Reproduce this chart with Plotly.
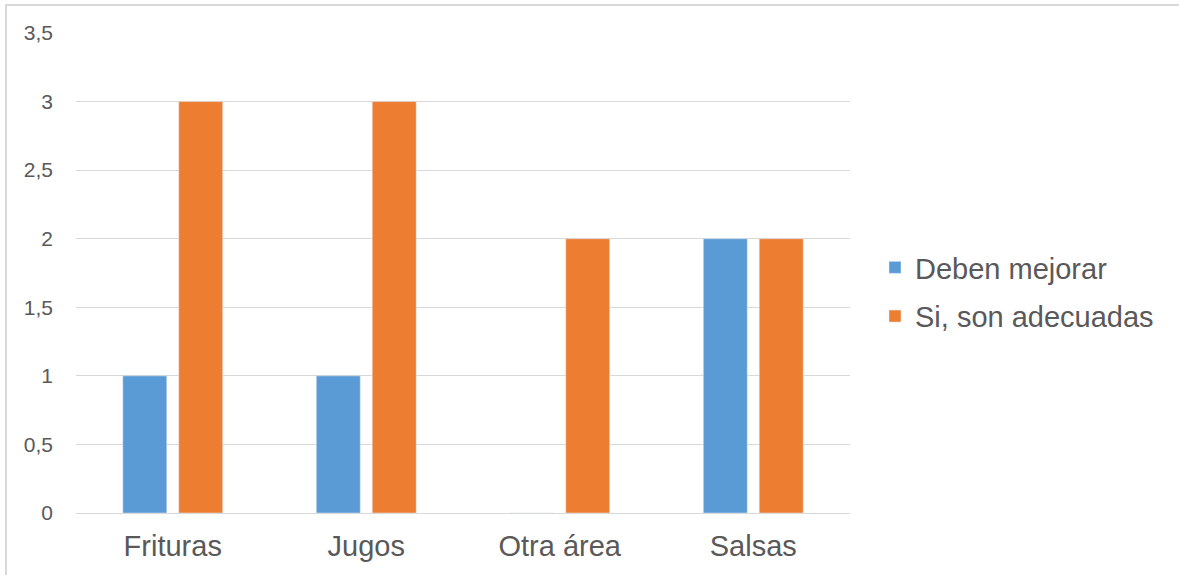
import plotly.graph_objects as go

categories = ["Frituras", "Jugos", "Otra área", "Salsas"]
deben_mejorar = [1, 1, 0, 2]
si_adecuadas = [3, 3, 2, 2]
y_ticks = [0, 0.5, 1, 1.5, 2, 2.5, 3, 3.5]
y_tick_labels = ["0", "0,5", "1", "1,5", "2", "2,5", "3", "3,5"]

W, H = 1179, 575
ML, MR, MT, MB = 76, 329, 33, 62
PW, PH = W - ML - MR, H - MT - MB

TEXT = "#595959"
GRID = "#d9d9d9"
FONT = "Liberation Sans, Arial, sans-serif"

fig = go.Figure()
fig.add_trace(go.Bar(name="Deben mejorar", x=categories, y=deben_mejorar,
                     marker_color="#5B9BD5", legendgroup="a"))
fig.add_trace(go.Bar(name="Si, son adecuadas", x=categories, y=si_adecuadas,
                     marker_color="#ED7D31", legendgroup="b"))

def px_x(v):
    return (v - ML) / PW

def px_y(v):
    return (H - MB - v) / PH

fig.update_layout(
    width=W, height=H,
    margin=dict(l=ML, r=MR, t=MT, b=MB, pad=0),
    paper_bgcolor="white", plot_bgcolor="white",
    barmode="group", bargap=0.422, bargroupgap=0.214,
    font=dict(family=FONT, color=TEXT),
    showlegend=True,
    legend=dict(x=px_x(875), y=px_y(292), xanchor="left", yanchor="middle",
                font=dict(size=29, color=TEXT), tracegroupgap=8,
                itemwidth=30, bgcolor="rgba(0,0,0,0)"),
    xaxis=dict(showgrid=False, showline=True, linecolor=GRID, linewidth=1,
               ticks="", tickfont=dict(size=29, color=TEXT),
               ticklabelstandoff=7, fixedrange=True),
    yaxis=dict(range=[0, 3.5], tickvals=y_ticks, ticktext=y_tick_labels,
               showgrid=True, gridcolor=GRID, gridwidth=1, zeroline=False,
               showline=False, ticks="", tickfont=dict(size=21, color=TEXT),
               ticklabelstandoff=22, fixedrange=True),
    shapes=[dict(type="rect", xref="paper", yref="paper",
                 x0=px_x(6), x1=px_x(1190), y0=px_y(590), y1=px_y(5),
                 line=dict(color=GRID, width=2), fillcolor="rgba(0,0,0,0)",
                 layer="below")],
)

fig.write_html("out.html")
